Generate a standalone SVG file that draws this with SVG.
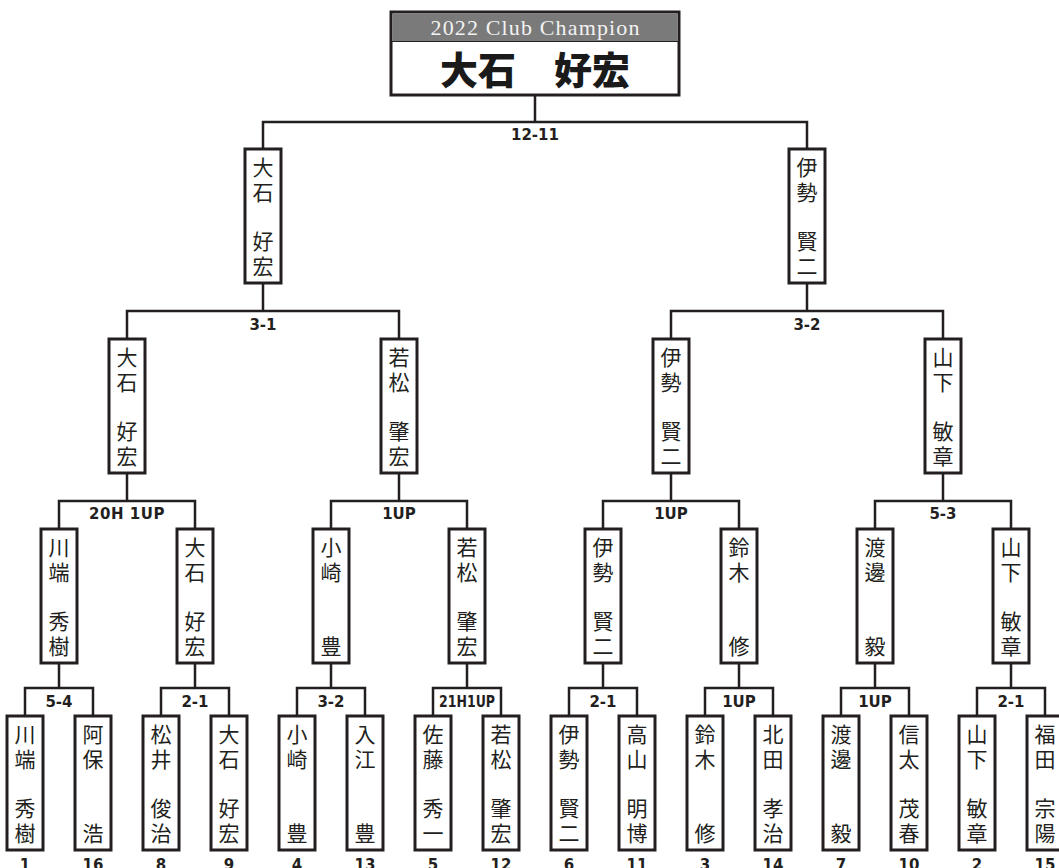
<svg xmlns="http://www.w3.org/2000/svg" width="1059" height="868" viewBox="0 0 1059 868">
<style>
.ln{stroke:#231f20;stroke-width:2.5;fill:none;stroke-linejoin:miter}
.bx{fill:#fff;stroke:#231f20;stroke-width:3}
.nm{font-family:"Noto Sans CJK JP","Noto Sans CJK SC",sans-serif;font-size:21px;font-weight:400;fill:#231f20;text-anchor:middle}
.sc{font-family:"DejaVu Sans","Liberation Sans",sans-serif;font-weight:bold;font-size:15px;fill:#231f20;text-anchor:middle;dominant-baseline:central}
.sd{font-family:"DejaVu Sans","Liberation Sans",sans-serif;font-weight:bold;font-size:15px;fill:#231f20;text-anchor:middle}
</style>
<rect width="1059" height="868" fill="#fff"/>
<g id="connectors" class="ln">
<path d="M535,95 V122 M263,149 V122 H807 V149"/>
<path d="M263,283 V311 M127,339 V311 H399 V339"/>
<path d="M807,283 V311 M671,339 V311 H943 V339"/>
<path d="M127,473 V501 M59,529 V501 H195 V529"/>
<path d="M399,473 V501 M331,529 V501 H467 V529"/>
<path d="M671,473 V501 M603,529 V501 H739 V529"/>
<path d="M943,473 V501 M875,529 V501 H1011 V529"/>
<path d="M59,663 V688 M25,716 V688 H93 V716"/>
<path d="M195,663 V688 M161,716 V688 H229 V716"/>
<path d="M331,663 V688 M297,716 V688 H365 V716"/>
<path d="M467,663 V688 M433,716 V688 H501 V716"/>
<path d="M603,663 V688 M569,716 V688 H637 V716"/>
<path d="M739,663 V688 M705,716 V688 H773 V716"/>
<path d="M875,663 V688 M841,716 V688 H909 V716"/>
<path d="M1011,663 V688 M977,716 V688 H1045 V716"/>
</g>
<g id="scores">
<text class="sc" x="535" y="135">12-11</text>
<text class="sc" x="263" y="325">3-1</text>
<text class="sc" x="807" y="325">3-2</text>
<text class="sc" x="127" y="514" letter-spacing="0.5">20H 1UP</text>
<text class="sc" x="399" y="514">1UP</text>
<text class="sc" x="671" y="514">1UP</text>
<text class="sc" x="943" y="514">5-3</text>
<text class="sc" x="59" y="702">5-4</text>
<text class="sc" x="195" y="702">2-1</text>
<text class="sc" x="331" y="702">3-2</text>
<text class="sc" x="467" y="702" font-size="14" textLength="56" lengthAdjust="spacingAndGlyphs">21H1UP</text>
<text class="sc" x="603" y="702">2-1</text>
<text class="sc" x="739" y="702">1UP</text>
<text class="sc" x="875" y="702">1UP</text>
<text class="sc" x="1011" y="702">2-1</text>
</g>
<g id="champion">
<rect x="391" y="12" width="288" height="83" fill="#fff" stroke="#231f20" stroke-width="3"/>
<rect x="392.5" y="13.5" width="285" height="28" fill="#7a7a7a"/>
<line x1="391" y1="41.5" x2="679" y2="41.5" stroke="#231f20" stroke-width="1"/>
<text x="535" y="35" font-family="Liberation Serif,serif" font-size="22" fill="#f2f2f2" text-anchor="middle" textLength="209" lengthAdjust="spacing">2022 Club Champion</text>
<text x="535" y="67" font-family="Noto Sans CJK JP,sans-serif" font-size="38" font-weight="900" fill="#1a1a1a" text-anchor="middle" dominant-baseline="central">大石　好宏</text>
</g>
<g id="r4-1"><rect class="bx" x="245" y="149" width="36" height="134"/><text class="nm" x="263" y="175">大</text><text class="nm" x="263" y="199.75">石</text><text class="nm" x="263" y="249.25">好</text><text class="nm" x="263" y="274">宏</text></g>
<g id="r4-2"><rect class="bx" x="789" y="149" width="36" height="134"/><text class="nm" x="807" y="175">伊</text><text class="nm" x="807" y="199.75">勢</text><text class="nm" x="807" y="249.25">賢</text><text class="nm" x="807" y="274">二</text></g>
<g id="r3-1"><rect class="bx" x="109" y="339" width="36" height="134"/><text class="nm" x="127" y="365">大</text><text class="nm" x="127" y="389.75">石</text><text class="nm" x="127" y="439.25">好</text><text class="nm" x="127" y="464">宏</text></g>
<g id="r3-2"><rect class="bx" x="381" y="339" width="36" height="134"/><text class="nm" x="399" y="365">若</text><text class="nm" x="399" y="389.75">松</text><text class="nm" x="399" y="439.25">肇</text><text class="nm" x="399" y="464">宏</text></g>
<g id="r3-3"><rect class="bx" x="653" y="339" width="36" height="134"/><text class="nm" x="671" y="365">伊</text><text class="nm" x="671" y="389.75">勢</text><text class="nm" x="671" y="439.25">賢</text><text class="nm" x="671" y="464">二</text></g>
<g id="r3-4"><rect class="bx" x="925" y="339" width="36" height="134"/><text class="nm" x="943" y="365">山</text><text class="nm" x="943" y="389.75">下</text><text class="nm" x="943" y="439.25">敏</text><text class="nm" x="943" y="464">章</text></g>
<g id="r2-1"><rect class="bx" x="41" y="529" width="36" height="134"/><text class="nm" x="59" y="555">川</text><text class="nm" x="59" y="579.75">端</text><text class="nm" x="59" y="629.25">秀</text><text class="nm" x="59" y="654">樹</text></g>
<g id="r2-2"><rect class="bx" x="177" y="529" width="36" height="134"/><text class="nm" x="195" y="555">大</text><text class="nm" x="195" y="579.75">石</text><text class="nm" x="195" y="629.25">好</text><text class="nm" x="195" y="654">宏</text></g>
<g id="r2-3"><rect class="bx" x="313" y="529" width="36" height="134"/><text class="nm" x="331" y="555">小</text><text class="nm" x="331" y="579.75">崎</text><text class="nm" x="331" y="654">豊</text></g>
<g id="r2-4"><rect class="bx" x="449" y="529" width="36" height="134"/><text class="nm" x="467" y="555">若</text><text class="nm" x="467" y="579.75">松</text><text class="nm" x="467" y="629.25">肇</text><text class="nm" x="467" y="654">宏</text></g>
<g id="r2-5"><rect class="bx" x="585" y="529" width="36" height="134"/><text class="nm" x="603" y="555">伊</text><text class="nm" x="603" y="579.75">勢</text><text class="nm" x="603" y="629.25">賢</text><text class="nm" x="603" y="654">二</text></g>
<g id="r2-6"><rect class="bx" x="721" y="529" width="36" height="134"/><text class="nm" x="739" y="555">鈴</text><text class="nm" x="739" y="579.75">木</text><text class="nm" x="739" y="654">修</text></g>
<g id="r2-7"><rect class="bx" x="857" y="529" width="36" height="134"/><text class="nm" x="875" y="555">渡</text><text class="nm" x="875" y="579.75">邊</text><text class="nm" x="875" y="654">毅</text></g>
<g id="r2-8"><rect class="bx" x="993" y="529" width="36" height="134"/><text class="nm" x="1011" y="555">山</text><text class="nm" x="1011" y="579.75">下</text><text class="nm" x="1011" y="629.25">敏</text><text class="nm" x="1011" y="654">章</text></g>
<g id="r1-1"><rect class="bx" x="7" y="716" width="36" height="134"/><text class="nm" x="25" y="742">川</text><text class="nm" x="25" y="766.75">端</text><text class="nm" x="25" y="816.25">秀</text><text class="nm" x="25" y="841">樹</text><text class="sd" x="25" y="870">1</text></g>
<g id="r1-2"><rect class="bx" x="75" y="716" width="36" height="134"/><text class="nm" x="93" y="742">阿</text><text class="nm" x="93" y="766.75">保</text><text class="nm" x="93" y="841">浩</text><text class="sd" x="93" y="870">16</text></g>
<g id="r1-3"><rect class="bx" x="143" y="716" width="36" height="134"/><text class="nm" x="161" y="742">松</text><text class="nm" x="161" y="766.75">井</text><text class="nm" x="161" y="816.25">俊</text><text class="nm" x="161" y="841">治</text><text class="sd" x="161" y="870">8</text></g>
<g id="r1-4"><rect class="bx" x="211" y="716" width="36" height="134"/><text class="nm" x="229" y="742">大</text><text class="nm" x="229" y="766.75">石</text><text class="nm" x="229" y="816.25">好</text><text class="nm" x="229" y="841">宏</text><text class="sd" x="229" y="870">9</text></g>
<g id="r1-5"><rect class="bx" x="279" y="716" width="36" height="134"/><text class="nm" x="297" y="742">小</text><text class="nm" x="297" y="766.75">崎</text><text class="nm" x="297" y="841">豊</text><text class="sd" x="297" y="870">4</text></g>
<g id="r1-6"><rect class="bx" x="347" y="716" width="36" height="134"/><text class="nm" x="365" y="742">入</text><text class="nm" x="365" y="766.75">江</text><text class="nm" x="365" y="841">豊</text><text class="sd" x="365" y="870">13</text></g>
<g id="r1-7"><rect class="bx" x="415" y="716" width="36" height="134"/><text class="nm" x="433" y="742">佐</text><text class="nm" x="433" y="766.75">藤</text><text class="nm" x="433" y="816.25">秀</text><text class="nm" x="433" y="841">一</text><text class="sd" x="433" y="870">5</text></g>
<g id="r1-8"><rect class="bx" x="483" y="716" width="36" height="134"/><text class="nm" x="501" y="742">若</text><text class="nm" x="501" y="766.75">松</text><text class="nm" x="501" y="816.25">肇</text><text class="nm" x="501" y="841">宏</text><text class="sd" x="501" y="870">12</text></g>
<g id="r1-9"><rect class="bx" x="551" y="716" width="36" height="134"/><text class="nm" x="569" y="742">伊</text><text class="nm" x="569" y="766.75">勢</text><text class="nm" x="569" y="816.25">賢</text><text class="nm" x="569" y="841">二</text><text class="sd" x="569" y="870">6</text></g>
<g id="r1-10"><rect class="bx" x="619" y="716" width="36" height="134"/><text class="nm" x="637" y="742">高</text><text class="nm" x="637" y="766.75">山</text><text class="nm" x="637" y="816.25">明</text><text class="nm" x="637" y="841">博</text><text class="sd" x="637" y="870">11</text></g>
<g id="r1-11"><rect class="bx" x="687" y="716" width="36" height="134"/><text class="nm" x="705" y="742">鈴</text><text class="nm" x="705" y="766.75">木</text><text class="nm" x="705" y="841">修</text><text class="sd" x="705" y="870">3</text></g>
<g id="r1-12"><rect class="bx" x="755" y="716" width="36" height="134"/><text class="nm" x="773" y="742">北</text><text class="nm" x="773" y="766.75">田</text><text class="nm" x="773" y="816.25">孝</text><text class="nm" x="773" y="841">治</text><text class="sd" x="773" y="870">14</text></g>
<g id="r1-13"><rect class="bx" x="823" y="716" width="36" height="134"/><text class="nm" x="841" y="742">渡</text><text class="nm" x="841" y="766.75">邊</text><text class="nm" x="841" y="841">毅</text><text class="sd" x="841" y="870">7</text></g>
<g id="r1-14"><rect class="bx" x="891" y="716" width="36" height="134"/><text class="nm" x="909" y="742">信</text><text class="nm" x="909" y="766.75">太</text><text class="nm" x="909" y="816.25">茂</text><text class="nm" x="909" y="841">春</text><text class="sd" x="909" y="870">10</text></g>
<g id="r1-15"><rect class="bx" x="959" y="716" width="36" height="134"/><text class="nm" x="977" y="742">山</text><text class="nm" x="977" y="766.75">下</text><text class="nm" x="977" y="816.25">敏</text><text class="nm" x="977" y="841">章</text><text class="sd" x="977" y="870">2</text></g>
<g id="r1-16"><rect class="bx" x="1027" y="716" width="36" height="134"/><text class="nm" x="1045" y="742">福</text><text class="nm" x="1045" y="766.75">田</text><text class="nm" x="1045" y="816.25">宗</text><text class="nm" x="1045" y="841">陽</text><text class="sd" x="1045" y="870">15</text></g>
</svg>
